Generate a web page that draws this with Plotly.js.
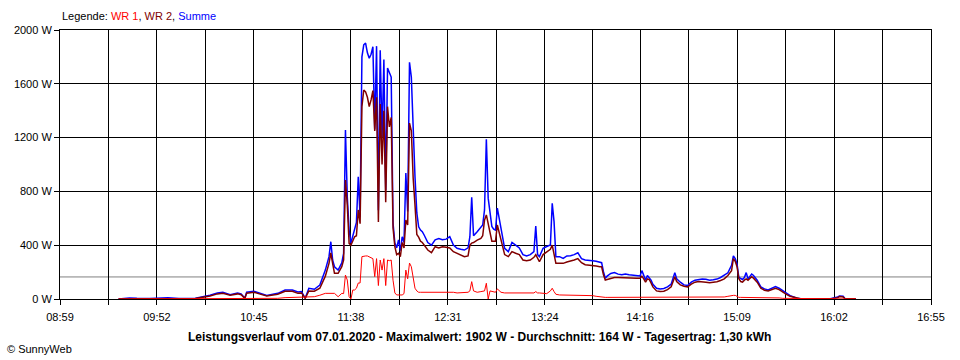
<!DOCTYPE html>
<html>
<head>
<meta charset="utf-8">
<script src="https://cdn.plot.ly/plotly-3.0.1.min.js"></script>
<style>
html,body{margin:0;padding:0;background:#fff;}
#chart{width:960px;height:360px;}
</style>
</head>
<body>
<div id="chart"></div>
<script>
// ---- data ----
const times = [
"09:31","09:37","09:41","09:48","09:58","10:04","10:13","10:17","10:21","10:25",
"10:28","10:32","10:36","10:38","10:40","10:41","10:45","10:47","10:52","10:58",
"11:02","11:06","11:09","11:11","11:13","11:15","11:18","11:21","11:24","11:26",
"11:27","11:28","11:29","11:31","11:33","11:34","11:35","11:36","11:37","11:38",
"11:39","11:40","11:41","11:42","11:43","11:44","11:45","11:46","11:47","11:48",
"11:49","11:50","11:51","11:52","11:53","11:54","11:55","11:56","11:57","11:58",
"11:59","12:00","12:01","12:02","12:03","12:04","12:05","12:06","12:07","12:08",
"12:09","12:10","12:11","12:12","12:13","12:14","12:15","12:16","12:17","12:18",
"12:20","12:22","12:24","12:26","12:28","12:30","12:32","12:34","12:36","12:38",
"12:40","12:42","12:43","12:44","12:45","12:47","12:49","12:50","12:51","12:52",
"12:53","12:54","12:55","12:56","12:57","12:58","12:59","13:00","13:02","13:04",
"13:06","13:08","13:10","13:12","13:14","13:16","13:18","13:19","13:20","13:21",
"13:23","13:25","13:27","13:28","13:29","13:30","13:32","13:34","13:36","13:38",
"13:40","13:42","13:44","13:46","13:48","13:50","13:52","13:54","13:55","13:56",
"13:57","13:58","14:00","14:02","14:04","14:06","14:08","14:10","14:12","14:14",
"14:16","14:17","14:18","14:19","14:20","14:21","14:22","14:23","14:25","14:27",
"14:29","14:31","14:33","14:35","14:36","14:38","14:40","14:42","14:44","14:46",
"14:48","14:50","14:52","14:54","14:56","14:58","15:00","15:02","15:04","15:06",
"15:07","15:08","15:09","15:10","15:11","15:12","15:13","15:14","15:15","15:17",
"15:18","15:20","15:22","15:24","15:26","15:28","15:30","15:32","15:34","15:36",
"15:38","15:40","15:42","15:44","15:50","15:56","16:00","16:04","16:05","16:07",
"16:08","16:13","16:14"
];
const summe = [
0,8,5,3,10,3,5,15,28,45,
50,32,45,38,5,50,57,48,27,42,
67,67,52,55,5,80,72,104,215,315,
426,290,240,215,268,340,1256,760,513,416,
470,537,570,909,612,1800,1890,1902,1830,1790,
1820,1876,1260,1880,660,1850,1200,1780,810,1717,
1680,1650,565,416,380,440,360,463,420,936,
650,1760,1650,1207,909,640,537,513,500,476,
420,400,440,450,440,445,463,401,377,370,
364,380,463,756,470,500,530,550,662,1187,
750,640,540,520,513,676,600,513,377,352,
420,400,380,330,320,330,352,543,330,315,
377,390,401,711,575,315,315,302,320,322,
330,344,300,290,290,285,280,270,270,203,
154,170,190,196,185,180,185,180,178,172,
171,211,180,141,175,160,140,110,80,75,
78,90,110,196,150,125,105,100,125,140,
146,148,146,140,143,148,160,175,195,250,
320,300,260,160,150,145,160,196,150,186,
175,140,90,75,67,80,92,80,60,40,
25,15,5,2,2,5,2,15,22,20,
3,2,0
];
const wr2 = [
0,3,2,2,5,2,3,10,22,38,
42,28,38,32,5,43,50,42,22,36,
58,58,42,45,5,60,58,80,170,265,
342,265,191,191,240,290,885,700,414,400,
430,463,470,662,560,1430,1554,1540,1500,1430,
1480,1550,1250,1500,572,1450,1000,1400,720,1430,
1280,1350,530,390,330,340,315,420,380,587,
550,1308,1250,900,700,480,460,430,420,400,
364,345,389,380,389,385,380,352,340,330,
315,320,400,416,420,438,450,470,587,625,
560,470,430,430,430,550,500,430,330,315,
352,340,330,290,285,290,310,330,300,277,
330,352,370,401,330,265,265,265,275,280,
290,300,270,255,253,250,245,240,240,180,
141,145,155,160,160,158,160,155,156,154,
154,170,150,125,150,145,120,90,60,55,
58,70,90,165,130,105,95,90,110,125,
130,130,125,120,122,128,138,150,175,210,
300,280,240,150,130,125,140,150,140,165,
155,125,80,65,60,70,80,70,50,35,
20,12,4,1,1,3,1,10,18,15,
2,1,0
];
const wr1 = [
0,0,0,0,0,0,0,0,2,2,
2,2,3,3,2,3,3,3,3,5,
10,12,15,15,17,17,17,28,42,42,
42,40,42,17,42,40,178,141,17,0,
67,67,80,119,119,315,320,320,320,315,
310,300,166,300,100,290,215,300,100,290,
285,290,140,45,30,30,25,30,40,215,
150,267,240,150,80,60,50,50,50,50,
55,55,54,54,54,54,54,50,45,45,
45,50,60,129,60,50,55,55,60,117,
0,60,55,55,50,75,60,50,45,45,
45,45,45,45,45,45,45,55,45,45,
40,40,60,80,55,35,30,30,30,30,
30,30,30,30,30,25,20,15,12,12,
12,12,12,12,12,12,12,12,12,12,
12,12,12,12,12,12,12,12,12,12,
12,12,12,12,12,12,12,12,12,12,
12,12,12,12,12,12,12,15,20,27,
27,27,20,12,12,12,12,12,12,12,
12,12,10,10,8,8,8,8,5,5,
3,2,0,0,0,0,0,3,5,5,
0,0,0
];
const tickLabels = ["08:59","09:52","10:45","11:38","12:31","13:24","14:16","15:09","16:02","16:55"];
const averageW = 164;
const legendText = 'Legende: <span style="color:#ff0000">WR 1</span>, <span style="color:#800000">WR 2</span>, <span style="color:#0000ff">Summe</span>';
const footerText = "Leistungsverlauf vom 07.01.2020 - Maximalwert: 1902 W - Durchschnitt: 164 W - Tagesertrag: 1,30 kWh";
const copyText = "© SunnyWeb";

// ---- helpers ----
function toMin(s){ const p = s.split(":"); return (+p[0])*60 + (+p[1]); }
const xs = times.map(toMin);
const labelMins = tickLabels.map(toMin);
const tickvals = [], ticktext = [];
for (let i = 0; i < labelMins.length; i++) {
  tickvals.push(labelMins[i]); ticktext.push(tickLabels[i]);
  if (i < labelMins.length - 1) { tickvals.push((labelMins[i] + labelMins[i+1]) / 2); ticktext.push(""); }
}
const FONT = "Liberation Sans, Arial, sans-serif";

const traces = [
  {x: xs, y: summe, name: "Summe", type: "scatter", mode: "lines", line: {color: "#0000ff", width: 1.5}},
  {x: xs, y: wr2, name: "WR 2", type: "scatter", mode: "lines", line: {color: "#800000", width: 1.5}},
  {x: xs, y: wr1, name: "WR 1", type: "scatter", mode: "lines", line: {color: "#ff0000", width: 1}}
];

const layout = {
  width: 960, height: 360,
  margin: {l: 60, r: 29, t: 30, b: 61},
  paper_bgcolor: "#ffffff", plot_bgcolor: "#ffffff",
  showlegend: false,
  font: {family: FONT, size: 11, color: "#000"},
  xaxis: {
    range: [labelMins[0], labelMins[labelMins.length-1]],
    tickmode: "array", tickvals: tickvals, ticktext: ticktext,
    showgrid: true, gridcolor: "#000", gridwidth: 1,
    showline: true, linecolor: "#000", linewidth: 1, mirror: true,
    ticks: "outside", ticklen: 5, tickcolor: "#000",
    ticklabelstandoff: 3,
    zeroline: false, fixedrange: true,
    tickfont: {family: FONT, size: 11, color: "#000"}
  },
  yaxis: {
    range: [0, 2000], dtick: 400, tick0: 0, ticksuffix: " W", tickformat: "d",
    showgrid: true, gridcolor: "#000", gridwidth: 1,
    showline: true, linecolor: "#000", linewidth: 1, mirror: true,
    ticks: "outside", ticklen: 5, tickcolor: "#000",
    zeroline: false, fixedrange: true,
    tickfont: {family: FONT, size: 11, color: "#000"}
  },
  shapes: [
    {type: "line", xref: "paper", x0: 0, x1: 1, yref: "y", y0: averageW, y1: averageW,
     line: {color: "#808080", width: 1}, layer: "below"}
  ],
  annotations: [
    {text: legendText, xref: "paper", yref: "paper", x: 0, y: 1.052, xanchor: "left", yanchor: "middle",
     showarrow: false, font: {family: FONT, size: 11, color: "#000"}},
    {text: "<b>" + footerText + "</b>", xref: "paper", yref: "paper", x: 0.4816, y: -0.141,
     xanchor: "center", yanchor: "middle", showarrow: false, font: {family: FONT, size: 12, color: "#000"}},
    {text: copyText, xref: "paper", yref: "paper", x: -0.0631, y: -0.186, xanchor: "left", yanchor: "middle",
     showarrow: false, font: {family: FONT, size: 11, color: "#000"}}
  ]
};

Plotly.newPlot("chart", traces, layout, {displayModeBar: false, staticPlot: true});
</script>
</body>
</html>
